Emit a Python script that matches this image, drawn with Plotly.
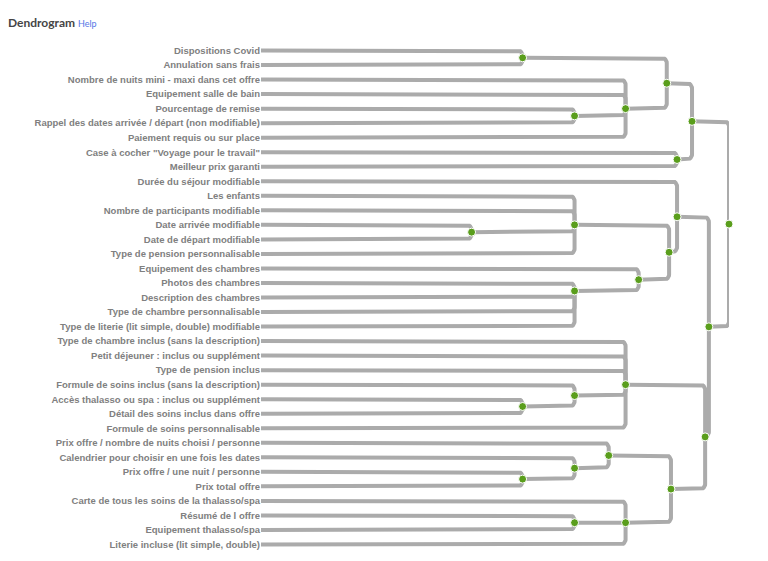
import math
import plotly.graph_objects as go

# ---------------- data ----------------
LEAVES = [
    "Dispositions Covid",
    "Annulation sans frais",
    "Nombre de nuits mini - maxi dans cet offre",
    "Equipement salle de bain",
    "Pourcentage de remise",
    "Rappel des dates arrivée / départ (non modifiable)",
    "Paiement requis ou sur place",
    "Case à cocher \"Voyage pour le travail\"",
    "Meilleur prix garanti",
    "Durée du séjour modifiable",
    "Les enfants",
    "Nombre de participants modifiable",
    "Date arrivée modifiable",
    "Date de départ modifiable",
    "Type de pension personnalisable",
    "Equipement des chambres",
    "Photos des chambres",
    "Description des chambres",
    "Type de chambre personnalisable",
    "Type de literie (lit simple, double) modifiable",
    "Type de chambre inclus (sans la description)",
    "Petit déjeuner : inclus ou supplément",
    "Type de pension inclus",
    "Formule de soins inclus (sans la description)",
    "Accès thalasso ou spa : inclus ou supplément",
    "Détail des soins inclus dans offre",
    "Formule de soins personnalisable",
    "Prix offre / nombre de nuits choisi / personne",
    "Calendrier pour choisir en une fois les dates",
    "Prix offre / une nuit / personne",
    "Prix total offre",
    "Carte de tous les soins de la thalasso/spa",
    "Résumé de l offre",
    "Equipement thalasso/spa",
    "Literie incluse (lit simple, double)",
]

# internal nodes: name, merge height (0 = leaves, 100 = root), children (in order)
NODE_NAMES = ["A", "B", "C", "D", "E", "F", "H", "I", "J", "K", "L", "M",
              "Q", "R", "S", "T", "U", "V", "W", "X", "Y", "P", "N", "G"]
NODE_HEIGHTS = [55.9, 67.0, 77.9, 86.7, 88.9, 92.1, 45.0, 67.0, 67.0, 80.7, 87.2, 88.9,
                55.9, 67.0, 77.9, 55.9, 67.0, 74.3, 67.0, 77.9, 87.6, 94.9, 95.7, 100.0]
NODE_CHILDREN = [
    ["Dispositions Covid", "Annulation sans frais"],
    ["Pourcentage de remise", "Rappel des dates arrivée / départ (non modifiable)"],
    ["Nombre de nuits mini - maxi dans cet offre", "Equipement salle de bain", "B",
     "Paiement requis ou sur place"],
    ["A", "C"],
    ["Case à cocher \"Voyage pour le travail\"", "Meilleur prix garanti"],
    ["D", "E"],
    ["Date arrivée modifiable", "Date de départ modifiable"],
    ["Les enfants", "Nombre de participants modifiable", "H", "Type de pension personnalisable"],
    ["Photos des chambres", "Description des chambres", "Type de chambre personnalisable",
     "Type de literie (lit simple, double) modifiable"],
    ["Equipement des chambres", "J"],
    ["I", "K"],
    ["Durée du séjour modifiable", "L"],
    ["Accès thalasso ou spa : inclus ou supplément", "Détail des soins inclus dans offre"],
    ["Formule de soins inclus (sans la description)", "Q"],
    ["Type de chambre inclus (sans la description)", "Petit déjeuner : inclus ou supplément",
     "Type de pension inclus", "R", "Formule de soins personnalisable"],
    ["Prix offre / une nuit / personne", "Prix total offre"],
    ["Calendrier pour choisir en une fois les dates", "T"],
    ["Prix offre / nombre de nuits choisi / personne", "U"],
    ["Résumé de l offre", "Equipement thalasso/spa"],
    ["Carte de tous les soins de la thalasso/spa", "W", "Literie incluse (lit simple, double)"],
    ["V", "X"],
    ["S", "Y"],
    ["M", "P"],
    ["F", "N"],
]
JUNCTION_ROW = {"J": 16.55}

# ---------------- layout constants ----------------
# the page body has an 8px default margin, so the figure is sized to fit the window
W, H = 760, 553
ML, MR, MT, MB = 253, 39, 28, 2
X_RANGE = [0, 100]
Y_RANGE = [35, -1]
px_per_x = (W - ML - MR) / (X_RANGE[1] - X_RANGE[0])
px_per_y = (H - MT - MB) / abs(Y_RANGE[0] - Y_RANGE[1])
RADIUS_PX = 5

# ---------------- compute positions ----------------
pos = {}
for i, leaf in enumerate(LEAVES):
    pos[leaf] = (0.0, float(i))
for name, h, kids in zip(NODE_NAMES, NODE_HEIGHTS, NODE_CHILDREN):
    ys = [pos[k][1] for k in kids]
    y = JUNCTION_ROW.get(name, (min(ys) + max(ys)) / 2)
    pos[name] = (h, y)

lx, ly = [], []
for name, kids in zip(NODE_NAMES, NODE_CHILDREN):
    px, py = pos[name]
    for k in kids:
        cx, cy = pos[k]
        dy_px = abs(py - cy) * px_per_y
        r = min(RADIUS_PX, dy_px)
        rx = r / px_per_x
        ry = r / px_per_y
        s = 1 if py > cy else -1
        lx += [cx, px - rx]
        ly += [cy, cy]
        if r > 0.2:
            for t in range(1, 9):
                a = t / 8 * math.pi / 2
                lx.append(px - rx + rx * math.sin(a))
                ly.append(cy + s * ry - s * ry * math.cos(a))
        lx.append(px)
        ly.append(py)
        lx.append(None)
        ly.append(None)

fig = go.Figure()
fig.add_trace(go.Scatter(
    x=lx, y=ly, mode="lines",
    line=dict(color="#ababab", width=4),
    hoverinfo="skip", showlegend=False,
))
fig.add_trace(go.Scatter(
    x=[pos[n][0] for n in NODE_NAMES],
    y=[pos[n][1] for n in NODE_NAMES],
    mode="markers",
    marker=dict(size=8, color="#5a9e1c", line=dict(color="white", width=1)),
    hoverinfo="skip", showlegend=False, cliponaxis=False,
))

fig.update_layout(
    width=W, height=H,
    margin=dict(l=ML, r=MR, t=MT, b=MB),
    paper_bgcolor="white", plot_bgcolor="white",
    title=dict(
        text="Dendrogram <span style='font-size:9px;color:#5577e6;font-weight:normal'>Help</span>",
        x=0, xanchor="left", xref="container",
        y=1 - 15 / H, yanchor="middle", yref="container",
        pad=dict(l=0, t=0, b=0, r=0),
        font=dict(family="Lato", size=12, color="#454545", weight="bold"),
    ),
    xaxis=dict(range=X_RANGE, visible=False, fixedrange=True),
    yaxis=dict(
        range=Y_RANGE,
        tickmode="array",
        tickvals=list(range(len(LEAVES))),
        ticktext=LEAVES,
        showgrid=False, zeroline=False, showline=False,
        ticks="", ticklabelstandoff=0,
        tickfont=dict(family="Liberation Sans", size=9.5, color="#808080", weight="bold"),
        fixedrange=True,
    ),
)

fig.write_html("out.html")
